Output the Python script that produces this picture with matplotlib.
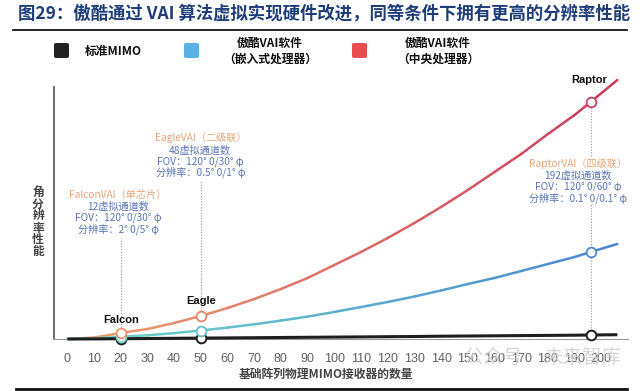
import matplotlib
matplotlib.use("Agg")
import matplotlib.pyplot as plt
import numpy as np
from matplotlib.collections import LineCollection
from matplotlib.colors import LinearSegmentedColormap
from matplotlib.patches import FancyBboxPatch
from matplotlib.lines import Line2D

plt.rcParams['font.family'] = ['Noto Sans CJK SC', 'DejaVu Sans']

# ---------------- data ----------------
title = "图29：傲酷通过 VAI 算法虚拟实现硬件改进，同等条件下拥有更高的分辨率性能"
legend_labels = ["标准MIMO", "傲酷VAI软件\n（嵌入式处理器）", "傲酷VAI软件\n（中央处理器）"]
x_label = "基础阵列物理MIMO接收器的数量"
y_label = "角分辨率性能"
x_ticks = list(range(0, 201, 10))

curve_x = [0, 10, 20, 30, 40, 50, 60, 70, 80, 90, 100, 110, 120, 130, 140, 150, 160, 170, 180, 190, 196, 206]
central_vals = [0, 1.5, 6, 10, 16, 23, 31, 40, 50, 61, 74, 87, 101, 116, 132, 149, 167, 185, 205, 224, 237, 259]
embedded_vals = [0, 0.6, 2.2, 3.7, 5.9, 8.5, 11.4, 14.7, 18.4, 22.4, 27, 32, 37, 42.5, 48.5, 55, 61, 68, 75, 82, 87, 95]
standard_vals = [0, 0.1, 0.3, 0.5, 0.7, 0.9, 1.1, 1.3, 1.5, 1.7, 1.9, 2.1, 2.3, 2.5, 2.8, 3.0, 3.2, 3.4, 3.6, 3.8, 4.0, 4.3]

point_x = [20, 50, 196]
point_names = ["Falcon", "Eagle", "Raptor"]
point_central = [6, 23, 237]
point_embedded = [2.2, 8.5, 87]
point_standard = [0.3, 0.9, 4.0]

falcon_text = ["FalconVAI（单芯片）", "12虚拟通道数", "FOV：120° 0/30° φ", "分辨率：2° 0/5° φ"]
eagle_text = ["EagleVAI（二级联）", "48虚拟通道数", "FOV：120° 0/30° φ", "分辨率：0.5° 0/1° φ"]
raptor_text = ["RaptorVAI（四级联）", "192虚拟通道数", "FOV：120° 0/60° φ", "分辨率：0.1° 0/0.1° φ"]

# ---------------- figure ----------------
W, H = 640, 391
fig = plt.figure(figsize=(6.4, 3.91), dpi=100)
fig.patch.set_facecolor("white")

def fx(px):
    return px / W

def fy(py):
    return 1 - py / H

ax_left, ax_right, ax_top, ax_bot = 54, 628, 87, 339
ax = fig.add_axes([fx(ax_left), fy(ax_bot), (ax_right - ax_left) / W, (ax_bot - ax_top) / H])
ax.set_xlim(-5, 210)
ax.set_ylim(0, ax_bot - ax_top)
for s in ["top", "right"]:
    ax.spines[s].set_visible(False)
ax.spines["left"].set_color("#444444")
ax.spines["left"].set_linewidth(1.1)
ax.spines["bottom"].set_color("#999999")
ax.spines["bottom"].set_linewidth(0.8)
ax.set_yticks([])
ax.set_xticks(x_ticks)
ax.set_xticklabels([str(t) for t in x_ticks], fontsize=9, color="#5f5f5f",
                   family=["Liberation Sans", "DejaVu Sans"])
ax.tick_params(axis="x", length=0, pad=10)


def gradient_line(xs, ys, c0, c1, lw, z):
    pts = np.array([xs, ys]).T.reshape(-1, 1, 2)
    segs = np.concatenate([pts[:-1], pts[1:]], axis=1)
    cmap = LinearSegmentedColormap.from_list("g", [c0, c1])
    lc = LineCollection(segs, cmap=cmap, linewidths=lw, zorder=z, capstyle="round", joinstyle="round")
    lc.set_array(np.linspace(0, 1, len(segs)))
    lc.set_clip_on(False)
    ax.add_collection(lc)
    return cmap

cm_c = gradient_line(curve_x, central_vals, "#eda071", "#cc3b5c", 1.8, 4)
cm_e = gradient_line(curve_x, embedded_vals, "#6fd6c6", "#4a86d2", 1.8, 4)
ax.plot(curve_x, standard_vals, color="#1e1e1e", lw=2.2, zorder=5, clip_on=False,
        solid_capstyle="butt")

# dotted guides
guide_tops = [101, 159, 237]
for xv, yt, yb in zip(point_x, guide_tops, point_central):
    ax.plot([xv, xv], [yb, yt], color="#999999", lw=0.8, ls=(0, (1, 1.5)), zorder=2)
ax.plot([point_x[2], point_x[2]], [0, point_central[2]], color="#999999", lw=0.8, ls=(0, (1, 1.5)), zorder=2)

# markers
xmax = 206
for i, xv in enumerate(point_x):
    f = xv / xmax
    ax.plot(xv, point_standard[i], "o", ms=7, mfc="white", mec="#1e1e1e", mew=1.4, zorder=6, clip_on=False)
    ax.plot(xv, point_embedded[i], "o", ms=7, mfc="white", mec=cm_e(f), mew=1.3, zorder=7, clip_on=False)
    ax.plot(xv, point_central[i], "o", ms=7, mfc="white", mec=cm_c(f), mew=1.3, zorder=8, clip_on=False)

# point names
name_pos = [(20, 19), (50, 38), (195.5, 259)]
for name, (xv, yv) in zip(point_names, name_pos):
    ax.text(xv, yv, name, ha="center", va="center", fontsize=8, fontweight="bold",
            color="#111111", family=["Liberation Sans", "DejaVu Sans"], clip_on=False)

# annotation blocks
def block(lines, xc, ys, bg=False):
    for j, (t, yv) in enumerate(zip(lines, ys)):
        col = "#e6a57a" if j == 0 else "#5a74b4"
        kw = {}
        if bg:
            kw["bbox"] = dict(facecolor="white", edgecolor="none", pad=0.6)
        ax.text(xc, yv, t, ha="center", va="center", fontsize=7.3, color=col, zorder=3, **kw)

block(falcon_text, 19, [144, 132, 121, 110])
block(eagle_text, 49.8, [201, 188, 177, 167])
block(raptor_text, 191.4, [175, 163, 152, 141], bg=True)

# axis labels
fig.text(fx(326), fy(374), x_label, ha="center", va="center", fontsize=8.5,
         fontweight="bold", color="#444444")
for k, ch in enumerate(y_label):
    fig.text(fx(38), fy(192 + 12 * k), ch, ha="center", va="center", fontsize=8.5,
             fontweight="bold", color="#444444")

# title & rules
fig.text(fx(18), fy(14), title, ha="left", va="center", fontsize=12.5, fontweight="bold",
         color="#1f3d7a")
fig.add_artist(Line2D([fx(13), fx(627)], [fy(29.5)] * 2, color="#111111", lw=1.3))
fig.add_artist(Line2D([fx(16), fx(627)], [fy(389)] * 2, color="#111111", lw=2.0))

# legend
sq_colors = ["#222222", "#58b2e6", "#ea4d4f"]
sq_left = [54, 184, 352]
for c, l in zip(sq_colors, sq_left):
    p = FancyBboxPatch((fx(l), fy(58)), 15 / W, 15 / H, boxstyle="round,pad=0,rounding_size=0.004",
                       transform=fig.transFigure, facecolor=c, edgecolor="none")
    fig.add_artist(p)
fig.text(fx(85), fy(51), legend_labels[0], ha="left", va="center", fontsize=8.5,
         fontweight="bold", color="#111111")
fig.text(fx(270), fy(51.5), legend_labels[1], ha="center", va="center", fontsize=8.5,
         fontweight="bold", color="#111111", linespacing=1.25)
fig.text(fx(438), fy(51.5), legend_labels[2], ha="center", va="center", fontsize=8.5,
         fontweight="bold", color="#111111", linespacing=1.25)

# watermark (faint, as in the source image)
fig.text(fx(464), fy(357), "公众号", ha="left", va="center", fontsize=14, color="#cfcfcf", alpha=0.85)
fig.text(fx(543), fy(357), "未来智库", ha="left", va="center", fontsize=14, color="#cfcfcf", alpha=0.85)

fig.savefig("out.png", dpi=100, facecolor="white")
